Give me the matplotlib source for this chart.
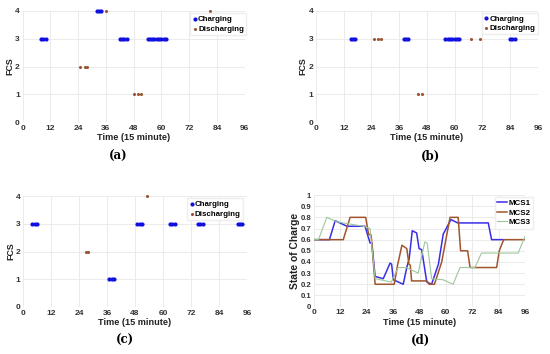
import matplotlib
matplotlib.use("Agg")
import matplotlib.pyplot as plt
import numpy as np

# ---- data ----
# panel (a)
a_chg_x = [8, 9, 10, 32, 33, 34, 42, 43, 44, 45, 54, 55, 56, 57, 58, 59, 60, 61, 62]
a_chg_y = [3, 3, 3, 4, 4, 4, 3, 3, 3, 3, 3, 3, 3, 3, 3, 3, 3, 3, 3]
a_dis_x = [25, 27, 28, 36, 48, 50, 51, 81]
a_dis_y = [2, 2, 2, 4, 1, 1, 1, 4]

# panel (b)
b_chg_x = [15, 16, 17, 38, 39, 40, 56, 57, 58, 59, 60, 61, 62, 84, 85, 86]
b_chg_y = [3] * 16
b_dis_x = [25, 27, 28, 44, 46, 67, 71]
b_dis_y = [3, 3, 3, 1, 1, 3, 3]

# panel (c)
c_chg_x = [4, 5, 6, 37, 38, 39, 49, 50, 51, 63, 64, 65, 75, 76, 77, 92, 93, 94]
c_chg_y = [3, 3, 3, 1, 1, 1, 3, 3, 3, 3, 3, 3, 3, 3, 3, 3, 3, 3]
c_dis_x = [27, 28, 53]
c_dis_y = [2, 2, 4]

# panel (d) state of charge
mcs1_x = [0, 7, 9.6, 15, 23.2, 25.5, 26.3, 27.8, 31.5, 34.6, 35.3, 36.1, 40.6, 42.2, 43.3,
          44.7, 46.7, 47.8, 49, 51.3, 53.5, 56.6, 58.8, 62.3, 65.4, 79.3, 80.8, 86.3]
mcs1_y = [0.6, 0.6, 0.77, 0.72, 0.72, 0.57, 0.57, 0.27, 0.25, 0.39, 0.38, 0.24, 0.2, 0.35, 0.43,
          0.68, 0.66, 0.52, 0.51, 0.22, 0.2, 0.38, 0.65, 0.78, 0.75, 0.75, 0.6, 0.6]
mcs2_x = [0, 13.3, 16.4, 23.5, 24.8, 26, 27.8, 36.5, 38, 40, 42.2, 43.2, 43.8, 44.4, 51.3,
          52.4, 54.8, 58.1, 61.9, 65.6, 66.7, 69.9, 71, 83.1, 84.3, 86.3, 96]
mcs2_y = [0.6, 0.6, 0.8, 0.8, 0.65, 0.64, 0.2, 0.2, 0.37, 0.55, 0.52, 0.38, 0.37, 0.23, 0.23,
          0.2, 0.2, 0.4, 0.8, 0.8, 0.5, 0.5, 0.35, 0.35, 0.5, 0.6, 0.6]
mcs3_x = [0, 2, 5.8, 10.4, 22.4, 25.5, 27.8, 35.2, 38.3, 42, 47.4, 50.4, 51.5, 53.5, 58.8,
          63.3, 66.4, 73.2, 76.2, 92.9, 96]
mcs3_y = [0.6, 0.6, 0.8, 0.76, 0.72, 0.7, 0.25, 0.22, 0.35, 0.35, 0.3, 0.58, 0.57, 0.25, 0.24,
          0.2, 0.35, 0.35, 0.48, 0.48, 0.63]

xticks = [0, 12, 24, 36, 48, 60, 72, 84, 96]
soc_ticks = [0, 0.1, 0.2, 0.3, 0.4, 0.5, 0.6, 0.7, 0.8, 0.9, 1]
soc_labels = ["0", "0.1", "0.2", "0.3", "0.4", "0.5", "0.6", "0.7", "0.8", "0.9", "1"]

BLUE = "#1010e0"
BROWN = "#9a5535"
GREEN = "#9cc79a"

plt.rcParams["font.family"] = ["Liberation Sans", "DejaVu Sans"]

fig = plt.figure(figsize=(5.5, 3.54), dpi=100)


def style_axes(ax, ymax, yticks, ylabel, ylabel_size):
    ax.set_xlim(0, 96)
    ax.set_ylim(0, ymax)
    ax.set_xticks(xticks)
    ax.set_yticks(yticks)
    ax.tick_params(labelsize=6, length=0, pad=2, colors="#333333")
    for lab in ax.get_xticklabels() + ax.get_yticklabels():
        lab.set_fontweight("bold")
    ax.grid(True, color="#e8e8e8", linewidth=0.6)
    ax.set_axisbelow(True)
    for s in ax.spines.values():
        s.set_visible(False)
    ax.set_xlabel("Time (15 minute)", fontsize=6.6, fontweight="bold", labelpad=1,
                  color="#222222")
    ax.set_ylabel(ylabel, fontsize=ylabel_size, fontweight="bold", labelpad=0.5,
                  color="#222222")


def fcs_panel(rect, cx, cy, dx, dy, anchor):
    ax = fig.add_axes(rect)
    ax.scatter(cx, cy, s=9, color=BLUE, linewidths=0, label="Charging", zorder=3, clip_on=False)
    ax.scatter(dx, dy, s=5, color=BROWN, linewidths=0, label="Discharging", zorder=3,
               clip_on=False)
    style_axes(ax, 4, [0, 1, 2, 3, 4], "FCS", 6.4)
    ax.legend(loc="upper right", handletextpad=0.1, borderpad=0.3, borderaxespad=0,
              labelspacing=0.25, handlelength=0.6, fancybox=False, framealpha=1,
              edgecolor="#eeeeee", prop={"weight": "bold", "size": 5.7},
              bbox_to_anchor=anchor)
    return ax


fcs_panel([0.041, 0.655, 0.404, 0.314], a_chg_x, a_chg_y, a_dis_x, a_dis_y, (1.007, 0.98))
fcs_panel([0.5745, 0.655, 0.4035, 0.314], b_chg_x, b_chg_y, b_dis_x, b_dis_y, (1.0, 0.985))
fcs_panel([0.042, 0.133, 0.407, 0.313], c_chg_x, c_chg_y, c_dis_x, c_dis_y, (0.983, 0.98))

axd = fig.add_axes([0.571, 0.134, 0.3835, 0.315])
axd.plot(mcs1_x, mcs1_y, color="#3a2ee8", linewidth=1.1, label="MCS1")
axd.plot(mcs2_x, mcs2_y, color="#a0552d", linewidth=1.1, label="MCS2")
axd.plot(mcs3_x, mcs3_y, color=GREEN, linewidth=0.8, label="MCS3")
style_axes(axd, 1, soc_ticks, "State of Charge", 7.4)
axd.set_yticklabels(soc_labels, fontweight="bold", fontsize=5.6)
axd.legend(loc="upper right", handletextpad=0.2, borderpad=0.3, borderaxespad=0,
           labelspacing=0.25, handlelength=1.3, fancybox=False, framealpha=1,
           edgecolor="#eeeeee", prop={"weight": "bold", "size": 5.7},
           bbox_to_anchor=(1.04, 0.98))

cap = dict(fontsize=8.5, fontweight="bold", family="DejaVu Serif", ha="center", va="center")
fig.text(118 / 550, 1 - 156 / 354, "(a)", **cap)
fig.text(430 / 550, 1 - 156 / 354, "(b)", **cap)
fig.text(125 / 550, 1 - 340 / 354, "(c)", **cap)
fig.text(420 / 550, 1 - 340 / 354, "(d)", **cap)

fig.savefig("out.png", dpi=100)
